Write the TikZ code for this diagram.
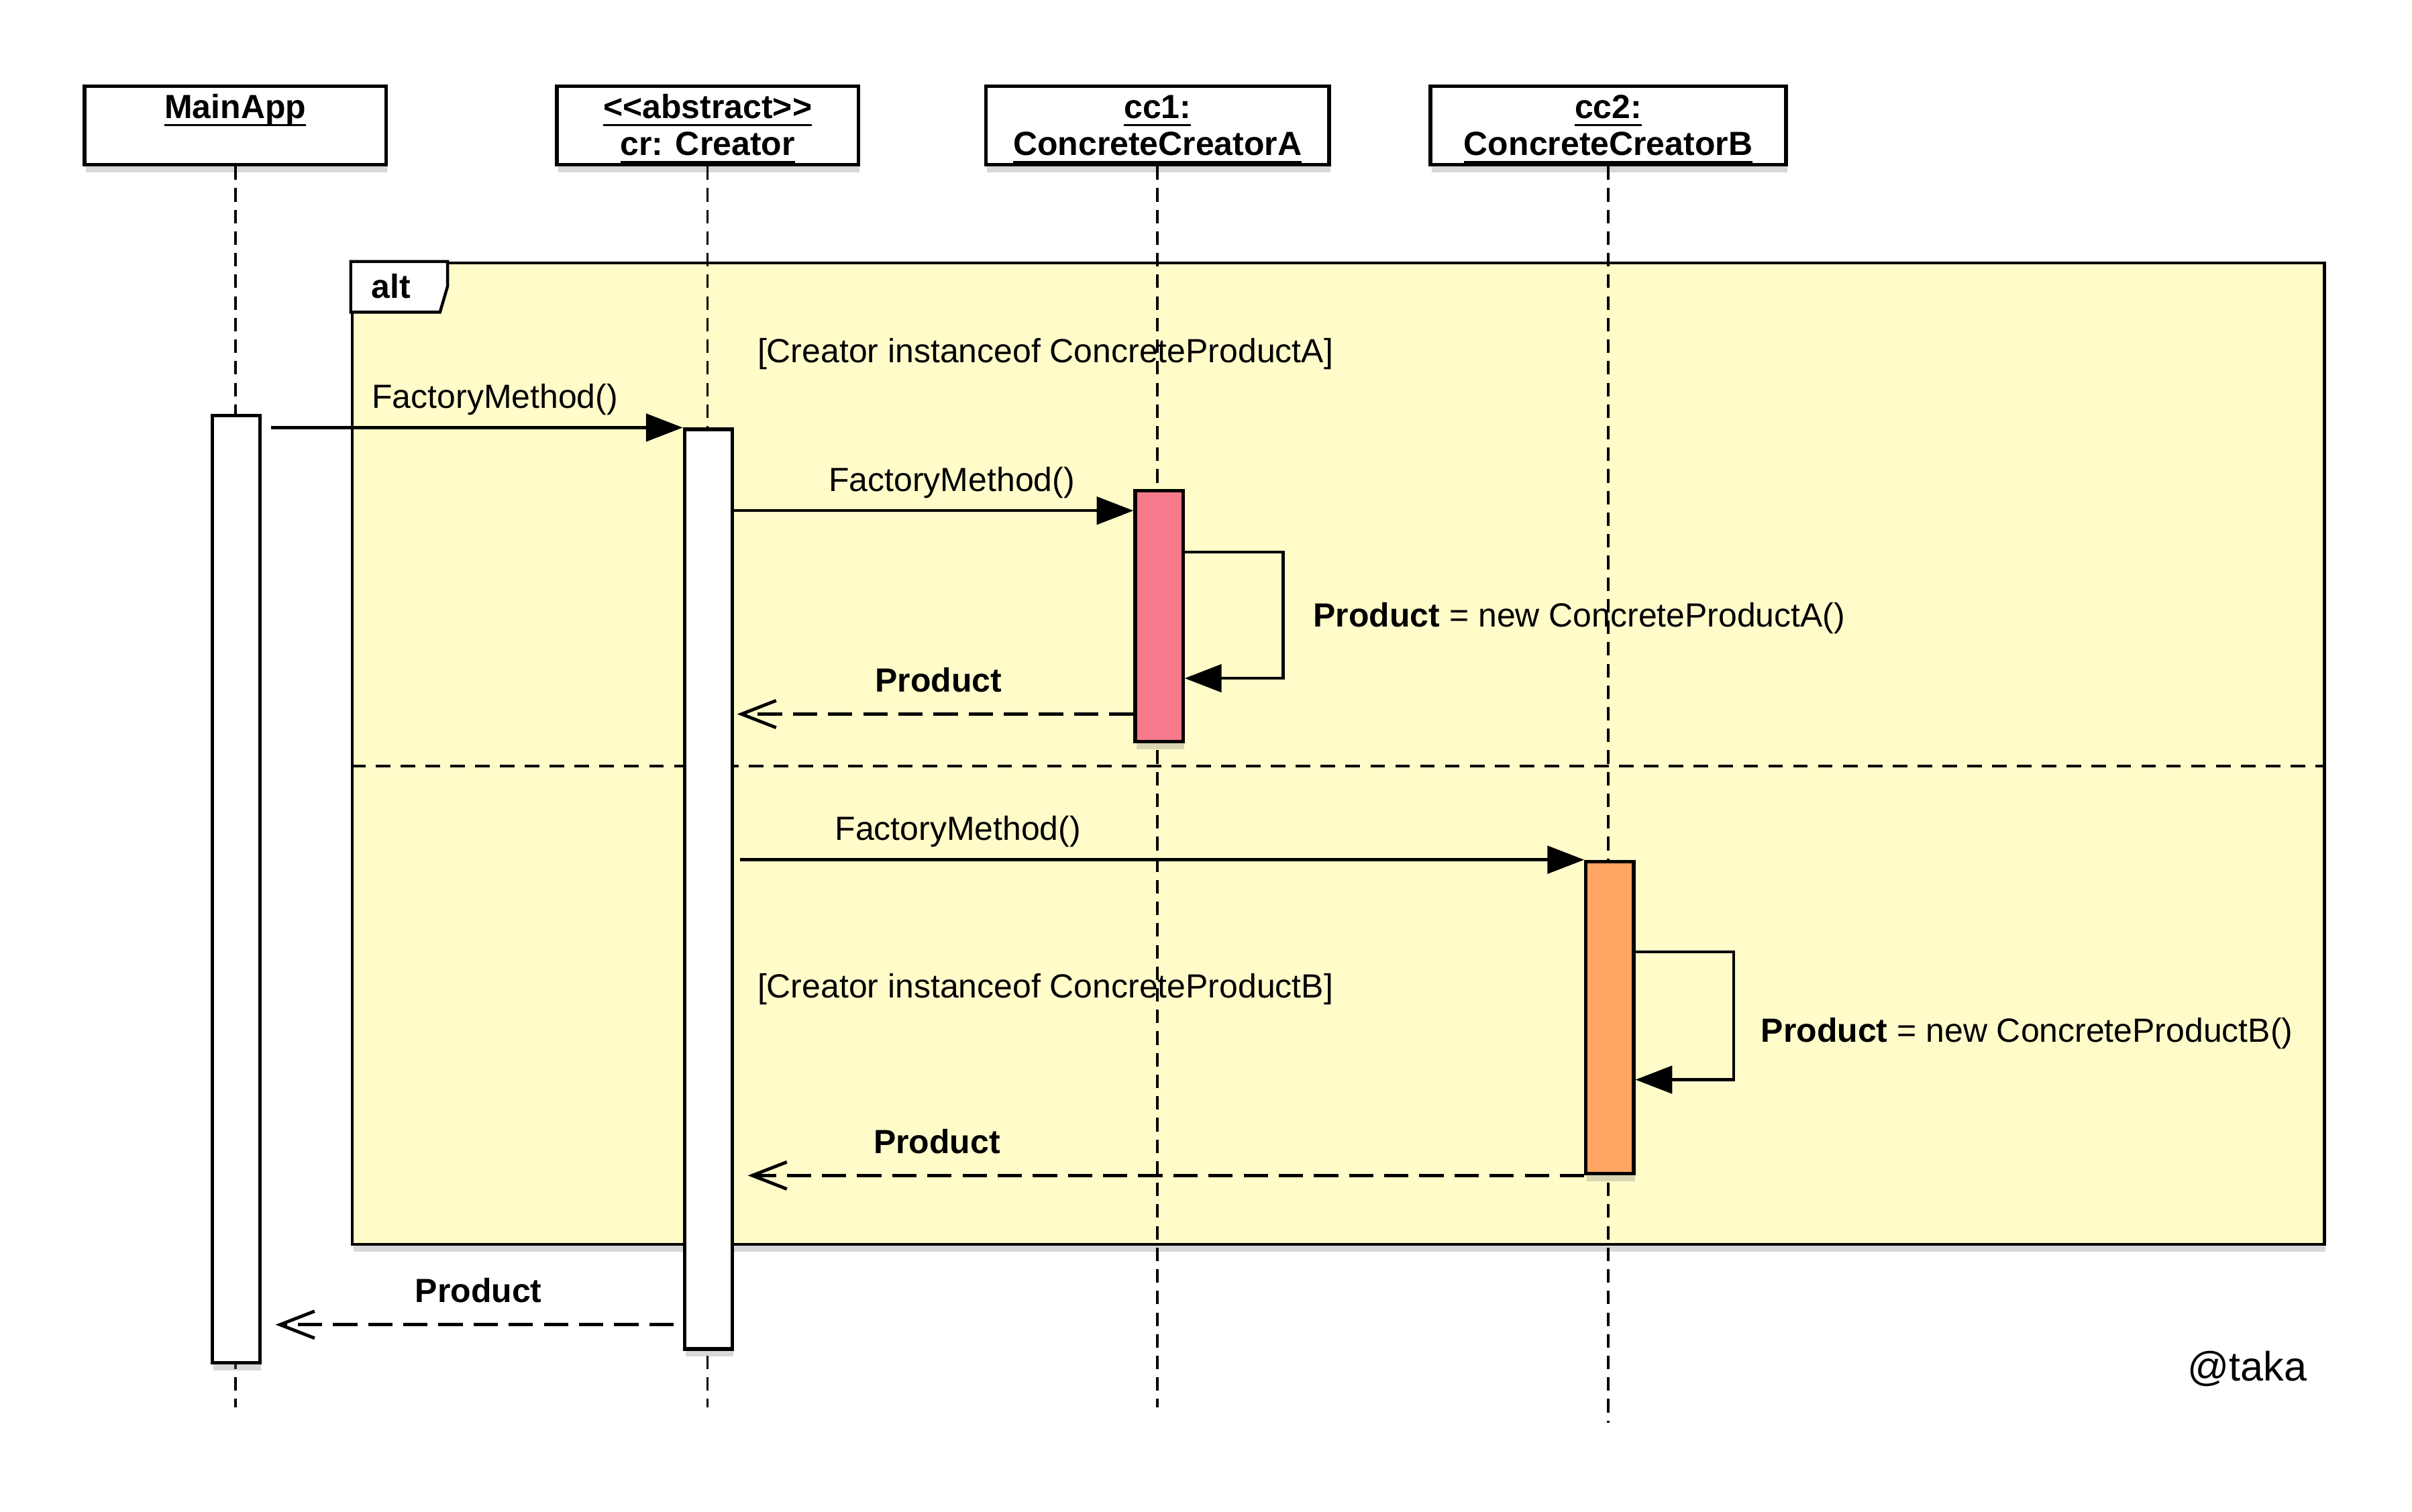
\documentclass[tikz,border=0pt]{standalone}
\usepackage{fontspec}
\setmainfont{Liberation Sans}
\usepackage{tikz}
\usepackage{xcolor}
\usetikzlibrary{arrows.meta,shadows}

\definecolor{altyellow}{RGB}{255,252,202}
\definecolor{barpink}{RGB}{246,122,140}
\definecolor{barorange}{RGB}{255,166,98}

% underlined bold object name
\newsavebox\namebox
\newcommand{\objname}[1]{\sbox\namebox{\textbf{#1}}\rlap{\rule[-1.4pt]{\wd\namebox}{0.4pt}}\usebox\namebox}

\begin{document}
\begin{tikzpicture}[
    every node/.style={font=\fontsize{6.2}{7.1}\selectfont},
    boxshadow/.style={drop shadow={shadow xshift=0.2pt, shadow yshift=-1.4pt, opacity=0.3}},
    header/.style={draw, fill=white, line width=0.7pt, minimum height=0.51cm, inner ysep=0pt, text height=12.8pt, text depth=1.7pt, align=center, font=\fontsize{6.2}{6.8}\selectfont, boxshadow},
    actbar/.style={draw, fill=white, line width=0.65pt, minimum width=0.31cm, inner sep=0pt, anchor=north, boxshadow},
    lifeline/.style={line width=0.45pt, dash pattern=on 2.5pt off 1.5pt},
    call/.style={line width=0.55pt, -{Triangle[length=6.8pt, width=5.1pt]}},
    reply/.style={line width=0.6pt, dash pattern=on 4.5pt off 2pt, -{Straight Barb[length=6.4pt, width=5pt]}},
    callmsg/.style={anchor=south west, yshift=-1.3pt},
    retmsg/.style={anchor=south west, yshift=0.4pt}
]
    \fill[white] (0,0) rectangle (15.68,-9.83);
    \useasboundingbox (0,0) rectangle (15.68,-9.83);

    % Objects
    \node[header, minimum width=1.96cm] (main) at (1.53,-0.815) {\objname{MainApp}\\ \mbox{}};
    \node[header, minimum width=1.96cm] (creator) at (4.60,-0.815) {\objname{<\kern0pt<abstract>\kern0pt>}\\ \objname{cr: Creator}};
    \node[header, minimum width=2.23cm] (ccA) at (7.525,-0.815) {\objname{cc1:}\\ \objname{ConcreteCreatorA}};
    \node[header, minimum width=2.31cm] (ccB) at (10.455,-0.815) {\objname{cc2:}\\ \objname{ConcreteCreatorB}};

    % Alt fragment
    \node[draw, fill=altyellow, line width=0.55pt, minimum width=12.82cm, minimum height=6.38cm, inner sep=0pt, anchor=north west, boxshadow] (altframe) at (2.28,-1.70) {};
    \draw[fill=white, line width=0.55pt] (altframe.north west) -- ++(0.63,0) -- ++(0,-0.16) -- ++(-0.05,-0.17) -- ++(-0.58,0) -- cycle;
    \node[anchor=west, font=\bfseries\fontsize{6.2}{7.1}\selectfont] (altlabel) at (2.29,-1.86) {alt};
    \draw[line width=0.5pt, dash pattern=on 2.7pt off 1.9pt] ([yshift=-3.28cm]altframe.north west) -- ([yshift=-3.28cm]altframe.north east);

    % Guards
    \node[anchor=west] (guardA) at (4.80,-2.30) {[Creator instanceof ConcreteProductA]};
    \node[anchor=west] (guardB) at (4.80,-6.43) {[Creator instanceof ConcreteProductB]};

    % Lifelines
    \coordinate (lifeend) at (0,-9.15);
    \coordinate (lifeendB) at (0,-9.25);
    \draw[lifeline] (main.south) -- (main.south |- lifeend);
    \draw[lifeline] (creator.south) -- (creator.south |- lifeend);
    \draw[lifeline] (ccA.south) -- (ccA.south |- lifeend);
    \draw[lifeline] (ccB.south) -- (ccB.south |- lifeendB);

    % Activations
    \node[actbar, minimum height=6.16cm] (mainbar) at (1.535,-2.69) {};
    \node[actbar, minimum height=5.98cm] (crbar) at (4.605,-2.78) {};
    \node[actbar, minimum height=1.63cm, fill=barpink] (ccAbar) at (7.535,-3.18) {};
    \node[actbar, minimum height=2.03cm, fill=barorange] (ccBbar) at (10.465,-5.59) {};

    % First alternative
    \draw[call, shorten <=0.06cm] (mainbar.east |- crbar.north) node[callmsg, xshift=0.59cm] (callcr) {FactoryMethod()} -- (crbar.north west);
    \coordinate (m2) at ([yshift=-0.14cm]ccAbar.north west);
    \draw[call] (crbar.east |- m2) node[callmsg, xshift=0.49cm] (callA) {FactoryMethod()} -- (m2);
    \draw[call] ([yshift=-0.41cm]ccAbar.north east) -- ++(0.64,0) |- ([yshift=-1.23cm]ccAbar.north east) node[pos=0.25, anchor=west, xshift=0.07cm, yshift=-0.02cm] (newA) {\textbf{Product} = new ConcreteProductA()};
    \coordinate (r1) at ([yshift=0.19cm]ccAbar.south west);
    \draw[reply, shorten >=0.02cm] (r1) -- (crbar.east |- r1) node[retmsg, xshift=0.79cm] (retA) {\textbf{Product}};

    % Second alternative
    \draw[call, shorten <=0.04cm] (crbar.east |- ccBbar.north) node[callmsg, xshift=0.53cm] (callB) {FactoryMethod()} -- (ccBbar.north west);
    \draw[call] ([yshift=-0.60cm]ccBbar.north east) -- ++(0.64,0) |- ([yshift=-1.43cm]ccBbar.north east) node[pos=0.25, anchor=west, xshift=0.05cm, yshift=-0.115cm] (newB) {\textbf{Product} = new ConcreteProductB()};
    \draw[reply, shorten >=0.09cm] (ccBbar.south west) -- (crbar.east |- ccBbar.south) node[retmsg, xshift=0.78cm] (retB) {\textbf{Product}};

    % Back to MainApp
    \coordinate (r3) at ([yshift=0.17cm]crbar.south west);
    \draw[reply, shorten <=0.06cm, shorten >=0.09cm] (r3) -- (mainbar.east |- r3) node[retmsg, xshift=0.87cm] (retmain) {\textbf{Product}};

    \node[anchor=east, font=\fontsize{7.6}{9}\selectfont] (credit) at (15.12,-8.90) {@taka};
\end{tikzpicture}
\end{document}
